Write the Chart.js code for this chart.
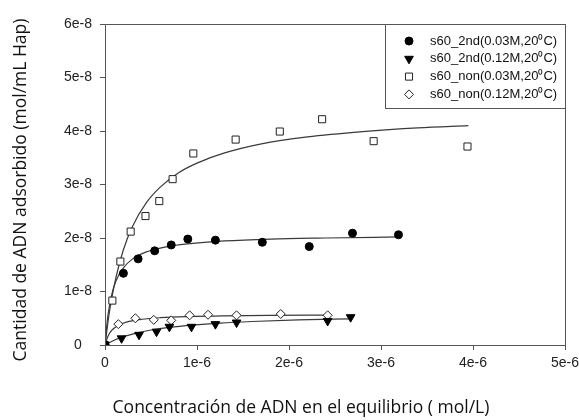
<!DOCTYPE html>
<html>
<head>
<meta charset="utf-8">
<script src="https://cdn.jsdelivr.net/npm/chart.js@4"></script>
<style>
  html, body { margin: 0; padding: 0; background: #fff; }
  #wrap { width: 579px; height: 420px; }
</style>
</head>
<body>
<div id="wrap"><canvas id="isoterma"></canvas></div>
<script>
const seriesNames = ['s60_2nd(0.03M,20\u2070C)', 's60_2nd(0.12M,20\u2070C)', 's60_non(0.03M,20\u2070C)', 's60_non(0.12M,20\u2070C)'];

const xTickLabels = ['0', '1e-6', '2e-6', '3e-6', '4e-6', '5e-6'];
const yTickLabels = ['0', '1e-8', '2e-8', '3e-8', '4e-8', '5e-8', '6e-8'];

// measured points
const circX = [0, 0.20e-6, 0.36e-6, 0.54e-6, 0.72e-6, 0.90e-6, 1.20e-6, 1.71e-6, 2.22e-6, 2.69e-6, 3.19e-6];
const circY = [0, 1.34e-8, 1.61e-8, 1.76e-8, 1.87e-8, 1.98e-8, 1.96e-8, 1.92e-8, 1.84e-8, 2.09e-8, 2.06e-8];

const triX = [0, 0.18e-6, 0.37e-6, 0.56e-6, 0.70e-6, 0.94e-6, 1.20e-6, 1.43e-6, 2.42e-6, 2.67e-6];
const triY = [0, 0.125e-8, 0.19e-8, 0.25e-8, 0.34e-8, 0.34e-8, 0.39e-8, 0.42e-8, 0.45e-8, 0.52e-8];

const sqX = [0, 0.08e-6, 0.167e-6, 0.279e-6, 0.44e-6, 0.59e-6, 0.735e-6, 0.96e-6, 1.42e-6, 1.90e-6, 2.36e-6, 2.92e-6, 3.94e-6];
const sqY = [0, 0.83e-8, 1.56e-8, 2.12e-8, 2.41e-8, 2.69e-8, 3.10e-8, 3.58e-8, 3.84e-8, 3.99e-8, 4.22e-8, 3.81e-8, 3.71e-8];

const diaX = [0, 0.145e-6, 0.33e-6, 0.53e-6, 0.72e-6, 0.92e-6, 1.12e-6, 1.43e-6, 1.91e-6, 2.42e-6];
const diaY = [0, 0.39e-8, 0.50e-8, 0.47e-8, 0.46e-8, 0.555e-8, 0.565e-8, 0.555e-8, 0.58e-8, 0.555e-8];

// fitted isotherm curves
const fitCircX = [0, 0.03e-6, 0.07e-6, 0.12e-6, 0.2e-6, 0.3e-6, 0.45e-6, 0.65e-6, 0.9e-6, 1.3e-6, 1.8e-6, 2.4e-6, 3.19e-6];
const fitCircY = [0, 0.53e-8, 0.92e-8, 1.20e-8, 1.44e-8, 1.61e-8, 1.74e-8, 1.83e-8, 1.89e-8, 1.945e-8, 1.98e-8, 2.0e-8, 2.02e-8];

const fitTriX = [0, 0.1e-6, 0.2e-6, 0.35e-6, 0.5e-6, 0.7e-6, 0.95e-6, 1.25e-6, 1.6e-6, 2.1e-6, 2.67e-6];
const fitTriY = [0, 0.09e-8, 0.156e-8, 0.228e-8, 0.28e-8, 0.33e-8, 0.373e-8, 0.41e-8, 0.439e-8, 0.468e-8, 0.49e-8];

const fitSqX = [0, 0.05e-6, 0.1e-6, 0.2e-6, 0.3e-6, 0.45e-6, 0.6e-6, 0.8e-6, 1.0e-6, 1.3e-6, 1.7e-6, 2.2e-6, 2.8e-6, 3.4e-6, 3.95e-6];
const fitSqY = [0, 0.64e-8, 1.11e-8, 1.78e-8, 2.22e-8, 2.66e-8, 2.95e-8, 3.22e-8, 3.40e-8, 3.59e-8, 3.76e-8, 3.89e-8, 3.99e-8, 4.06e-8, 4.10e-8];

const fitDiaX = [0, 0.03e-6, 0.07e-6, 0.145e-6, 0.25e-6, 0.4e-6, 0.6e-6, 0.9e-6, 1.3e-6, 1.8e-6, 2.42e-6];
const fitDiaY = [0, 0.155e-8, 0.267e-8, 0.37e-8, 0.436e-8, 0.481e-8, 0.51e-8, 0.531e-8, 0.545e-8, 0.554e-8, 0.56e-8];

const pts = (xs, ys) => xs.map((x, i) => ({ x: x, y: ys[i] }));

const markerStyles = [
  { pointStyle: 'circle', pointRadius: 4, pointRotation: 0, backgroundColor: '#000', borderColor: '#000' },
  { pointStyle: 'triangle', pointRadius: 5, pointRotation: 180, backgroundColor: '#000', borderColor: '#000' },
  { pointStyle: 'rect', pointRadius: 5, pointRotation: 0, backgroundColor: '#fff', borderColor: '#222' },
  { pointStyle: 'rectRot', pointRadius: 4.5, pointRotation: 0, backgroundColor: '#fff', borderColor: '#222' }
];

function fitLine(xs, ys) {
  return {
    type: 'line', data: pts(xs, ys), showLine: true, fill: false,
    borderColor: '#3a3a3a', borderWidth: 1.2, pointRadius: 0,
    cubicInterpolationMode: 'monotone', order: 2
  };
}

function markers(i, xs, ys) {
  const s = markerStyles[i];
  return {
    label: seriesNames[i], data: pts(xs, ys), showLine: false,
    pointStyle: s.pointStyle, pointRadius: s.pointRadius, pointRotation: s.pointRotation,
    backgroundColor: s.backgroundColor, borderColor: s.borderColor, borderWidth: 1,
    order: 1
  };
}

function drawMarker(ctx, i, x, y) {
  const s = markerStyles[i];
  ctx.save();
  ctx.fillStyle = s.backgroundColor;
  ctx.strokeStyle = s.borderColor;
  ctx.lineWidth = 1;
  ctx.beginPath();
  if (i === 0) {
    ctx.arc(x, y, s.pointRadius, 0, Math.PI * 2);
  } else if (i === 1) {
    const r = s.pointRadius;
    ctx.moveTo(x - r * 0.866, y - r * 0.5);
    ctx.lineTo(x + r * 0.866, y - r * 0.5);
    ctx.lineTo(x, y + r);
  } else if (i === 2) {
    const h = s.pointRadius * Math.SQRT1_2;
    ctx.rect(x - h, y - h, 2 * h, 2 * h);
  } else {
    const r = s.pointRadius;
    ctx.moveTo(x, y - r); ctx.lineTo(x + r, y); ctx.lineTo(x, y + r); ctx.lineTo(x - r, y);
  }
  ctx.closePath();
  ctx.fill();
  ctx.stroke();
  ctx.restore();
}

// frame, boxed legend and axis titles
const decor = {
  id: 'decor',
  afterDatasetsDraw(chart) {
    const ctx = chart.ctx;
    const a = chart.chartArea;
    ctx.save();
    ctx.strokeStyle = '#555';
    ctx.lineWidth = 1;
    ctx.strokeRect(a.left + 0.5, a.top + 0.5, a.right - a.left, a.bottom - a.top);

    const bx = 385, by = a.top, bw = a.right - 385, bh = 84;
    ctx.fillStyle = '#fff';
    ctx.fillRect(bx + 0.5, by + 0.5, bw, bh);
    ctx.strokeRect(bx + 0.5, by + 0.5, bw, bh);
    ctx.font = '13px "Liberation Sans", Arial, sans-serif';
    ctx.textBaseline = 'middle';
    ctx.textAlign = 'left';
    seriesNames.forEach((name, i) => {
      const y = by + 17 + i * 17.8;
      drawMarker(ctx, i, 409, y);
      ctx.fillStyle = '#111';
      ctx.fillText(name, 430, y);
    });

    ctx.fillStyle = '#111';
    ctx.font = '17.5px "Open Sans", sans-serif';
    ctx.textAlign = 'center';
    ctx.textBaseline = 'middle';
    ctx.fillText('Concentración de ADN en el equilibrio ( mol/L)', 301, 408);
    ctx.translate(21, 190);
    ctx.rotate(-Math.PI / 2);
    ctx.fillText('Cantidad de ADN adsorbido (mol/mL Hap)', 0, 0);
    ctx.restore();
  }
};

const tickFont = { family: '"Liberation Sans", Arial, sans-serif', size: 14 };

new Chart(document.getElementById('isoterma'), {
  type: 'scatter',
  data: {
    datasets: [
      markers(0, circX, circY),
      markers(1, triX, triY),
      markers(2, sqX, sqY),
      markers(3, diaX, diaY),
      fitLine(fitCircX, fitCircY),
      fitLine(fitTriX, fitTriY),
      fitLine(fitSqX, fitSqY),
      fitLine(fitDiaX, fitDiaY)
    ]
  },
  options: {
    responsive: true,
    maintainAspectRatio: false,
    animation: false,
    layout: { padding: { top: 24, right: 14, left: 0, bottom: 0 } },
    plugins: { legend: { display: false }, tooltip: { enabled: false } },
    scales: {
      x: {
        type: 'linear', min: 0, max: 5e-6,
        ticks: { stepSize: 1e-6, autoSkip: false, maxRotation: 0, color: '#222', font: tickFont, padding: 5,
          callback: (v, i) => xTickLabels[i] },
        grid: { drawOnChartArea: false, tickLength: 5, color: '#555' },
        border: { color: '#555' },
        afterFit: s => { s.height = 75; s.paddingLeft = 0; s.paddingRight = 0; }
      },
      y: {
        min: 0, max: 6e-8,
        ticks: { stepSize: 1e-8, color: '#222', font: tickFont, padding: 8, crossAlign: 'center',
          callback: (v, i) => yTickLabels[i] },
        grid: { drawOnChartArea: false, tickLength: 5, color: '#555' },
        border: { color: '#555' },
        afterFit: s => { s.width = 105; s.paddingTop = 0; s.paddingBottom = 0; }
      }
    }
  },
  plugins: [decor]
});
</script>
</body>
</html>
